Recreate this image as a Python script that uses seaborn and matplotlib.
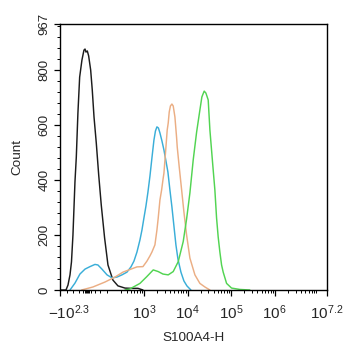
import numpy as np
import pandas as pd
import matplotlib
matplotlib.use("Agg")
import matplotlib.pyplot as plt
import matplotlib.transforms as mtransforms
import seaborn as sns
from matplotlib.ticker import FixedLocator, NullFormatter

# ---- data (fluorescence value, count) ----
black_x = [-192, -155, -140, -125, -114, -103, -88, -78, -66, -53, -36, -21, -13, -6, 4, 14, 29, 41, 54, 71,
           89, 108, 133, 158, 195, 252, 365, 501, 725, 944]
black_y = [0, 0, 18, 55, 102, 200, 393, 483, 643, 774, 836, 872, 876, 865, 869, 851, 800, 727, 629, 534,
           418, 309, 189, 91, 36, 15, 7, 6, 6, 0]

blue_x = [-125, -88, -51, -13, 24, 61, 83, 113, 151, 188, 239, 311, 406, 501, 587, 688, 806, 896, 995, 1106,
          1230, 1367, 1518, 1688, 1828, 1977, 2138, 2317, 2576, 2864, 3184, 3532, 3926, 4365, 4853, 5395,
          5998, 7031, 8226, 9638, 11912]
blue_y = [0, 25, 58, 76, 85, 93, 91, 76, 55, 44, 47, 55, 65, 84, 105, 138, 182, 218, 262, 305,
          356, 414, 480, 545, 578, 593, 589, 571, 542, 509, 469, 429, 364, 302, 233, 164,
          113, 65, 33, 15, 0]

orange_x = [-38, 46, 136, 215, 328, 688, 944, 1166, 1367, 1518, 1778, 1977, 2118, 2317, 2535, 2716, 2864,
            3184, 3405, 3591, 3787, 4035, 4365, 4677, 5117, 5598, 5781, 6427, 7295, 8226, 9484, 11298,
            14723, 19143, 24946, 32508]
orange_y = [0, 11, 29, 47, 65, 84, 85, 105, 124, 138, 164, 218, 262, 327, 364, 400, 425,
            520, 582, 607, 647, 669, 676, 669, 629, 553, 520, 447, 364, 284, 200, 116,
            55, 24, 11, 0]

green_x = [365, 475, 806, 1148, 1626, 2118, 2716, 3591, 4677, 6095, 7932, 9484, 11298, 13459, 16106,
           19143, 21284, 24044, 26303, 29717, 32508, 37497, 42267, 46238, 50350, 55081, 60256, 65615,
           78524, 102094, 158489, 268534]
green_y = [0, 4, 24, 48, 73, 67, 58, 55, 67, 103, 176, 258, 353, 473, 574, 654, 702, 723, 716, 691,
           582, 462, 364, 262, 193, 138, 91, 65, 24, 7, 2, 0]

y_ticks = [0, 200, 400, 600, 800, 967]
x_tick_values = [-10**2.3, 1e3, 1e4, 1e5, 1e6, 10**7.2]
x_tick_labels = [r"$-10^{2.3}$", r"$10^{3}$", r"$10^{4}$", r"$10^{5}$", r"$10^{6}$", r"$10^{7.2}$"]

# ---- build table ----
frames = []
for name, xs, ys in [("isotype", black_x, black_y), ("s1", blue_x, blue_y),
                     ("s2", orange_x, orange_y), ("s3", green_x, green_y)]:
    frames.append(pd.DataFrame({"x": xs, "y": ys, "sample": name}))
df = pd.concat(frames, ignore_index=True)

sns.set_style("ticks")
plt.rcParams["font.family"] = ["Liberation Sans", "DejaVu Sans"]
plt.rcParams["mathtext.fontset"] = "custom"
plt.rcParams["mathtext.rm"] = "Liberation Sans"
plt.rcParams["mathtext.it"] = "Liberation Sans:italic"
plt.rcParams["mathtext.bf"] = "Liberation Sans:bold"

fig = plt.figure(figsize=(3.43, 3.5), dpi=100)
ax = fig.add_axes([60 / 343, 60 / 350, 267 / 343, 266 / 350])

palette = {"isotype": "#1c1c1c", "s1": "#3aaed8", "s2": "#ebae84", "s3": "#52d452"}
sns.lineplot(data=df, x="x", y="y", hue="sample", palette=palette, estimator=None,
             sort=False, linewidth=1.05, legend=False, ax=ax)

ax.set_xscale("symlog", linthresh=10**2.3, linscale=0.553)
ax.set_xlim(-10**2.3, 10**7.2)
ax.set_ylim(0, 967)

ax.xaxis.set_major_locator(FixedLocator(x_tick_values))
ax.set_xticklabels(x_tick_labels)
minor_x = [-150, -100, -60, -30, -15, -8, 0, 8, 15, 30, 60, 100, 150]
minor_x += [300, 400, 500, 600, 700, 800, 900]
for k in range(3, 7):
    minor_x += [m * 10**k for m in range(2, 10)]
minor_x += [2e7, 3e7, 4e7, 5e7, 6e7, 7e7, 8e7, 9e7]
minor_x = [v for v in minor_x if v < 10**7.2]
ax.xaxis.set_minor_locator(FixedLocator(minor_x))
ax.xaxis.set_minor_formatter(NullFormatter())

ax.yaxis.set_major_locator(FixedLocator(y_ticks))
ax.yaxis.set_minor_locator(FixedLocator(list(range(40, 967, 40))))
ax.set_yticklabels([str(v) for v in y_ticks], rotation=90, va="center")

ax.tick_params(axis="both", which="major", direction="out", length=4, width=0.9,
               color="black", pad=2)
ax.tick_params(axis="both", which="minor", direction="out", length=2.2, width=0.7, color="black")
ax.tick_params(axis="x", labelsize=11, pad=6)
ax.tick_params(axis="y", labelsize=9.5, pad=3)

# shift first x label slightly right, like the reference
first = ax.get_xticklabels()[0]
first.set_transform(first.get_transform() + mtransforms.ScaledTranslation(9 / 100, 0, fig.dpi_scale_trans))

for s in ax.spines.values():
    s.set_visible(True)
    s.set_color("black")
    s.set_linewidth(1.0)

ax.set_xlabel("S100A4-H", fontsize=9.7, labelpad=7)
ax.set_ylabel("Count", fontsize=9.7, labelpad=11)

fig.savefig("out.png", dpi=100)
